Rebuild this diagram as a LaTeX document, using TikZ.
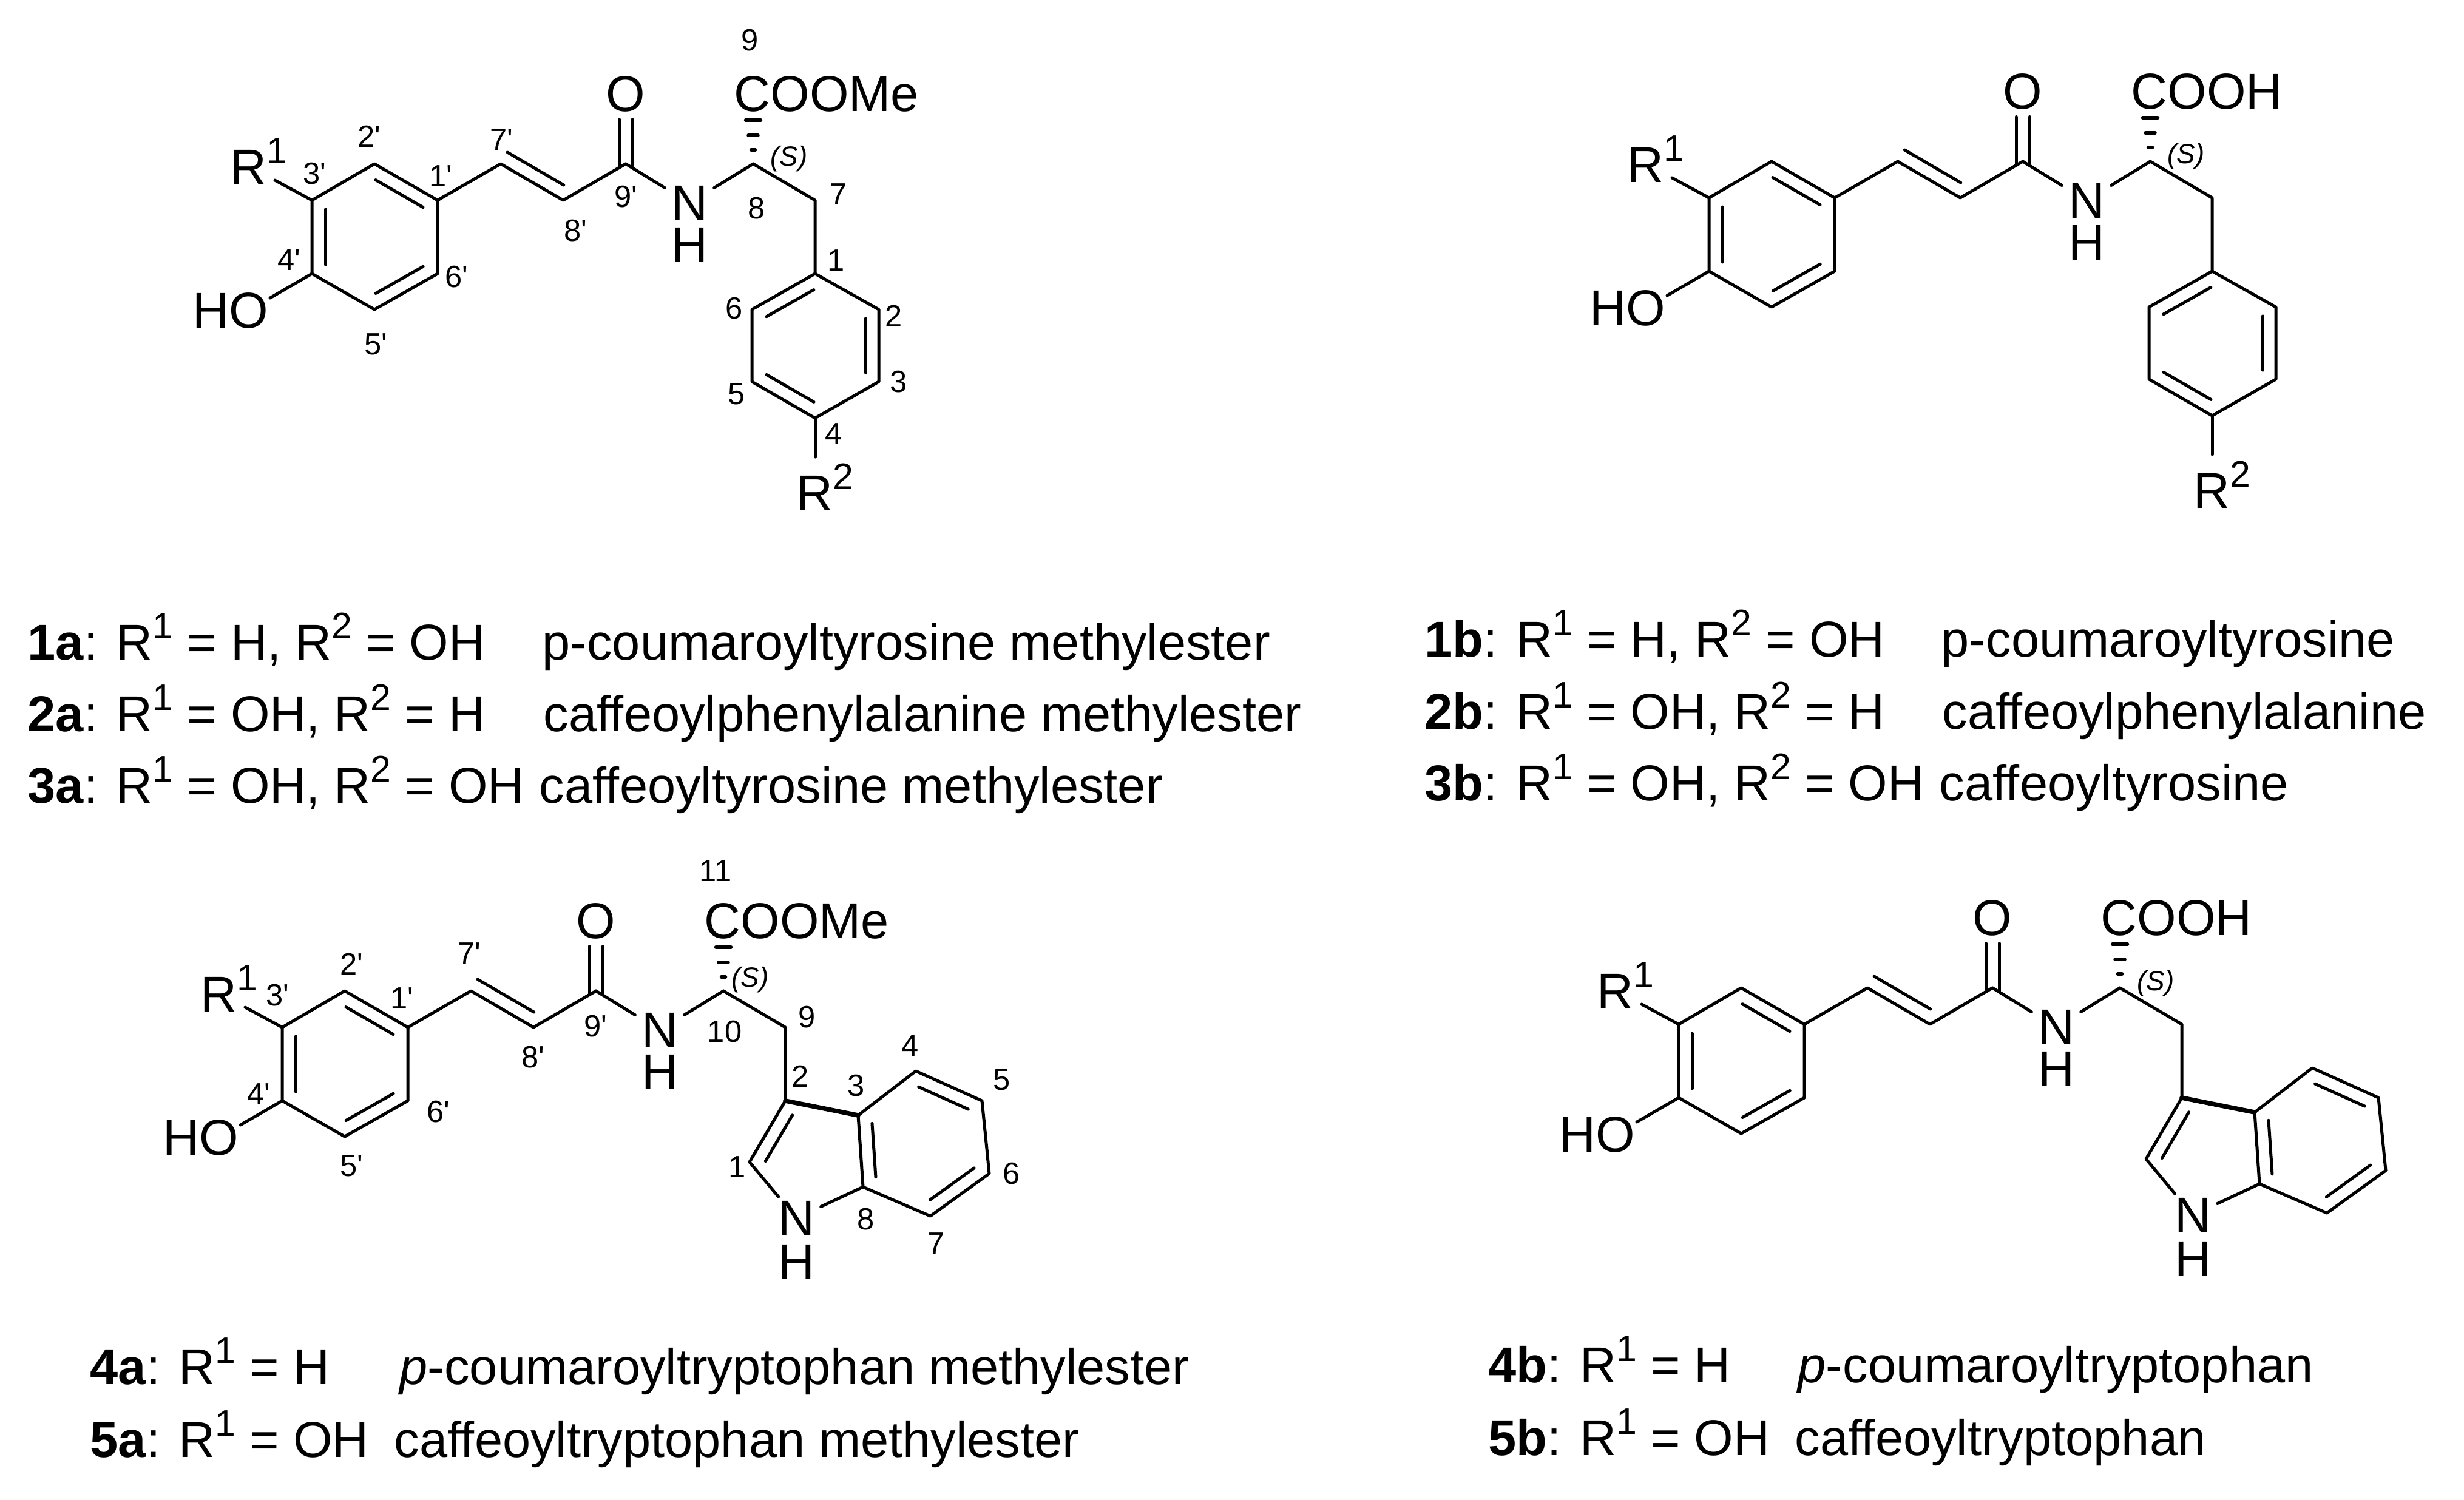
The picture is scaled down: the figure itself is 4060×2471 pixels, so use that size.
\documentclass[tikz,border=0pt]{standalone}
\usepackage{fontspec}
\usetikzlibrary{calc}
\newfontfamily\lsans{Liberation Sans}
\newcommand\pr{'}
\newcommand\supn[1]{\raisebox{.35cm}{\fontsize{17.3pt}{20pt}\selectfont #1}}
\newcommand\Rone{R\supn{1}}
\newcommand\Rtwo{R\supn{2}}
\newcommand\cpd[1]{{\bfseries #1}}
\tikzset{
  bond/.style={line width=.05cm,line cap=round,line join=round,black},
  heavybond/.style={line width=.075cm,line cap=round,line join=round,black},
  hash/.style={line width=.055cm,line cap=round,black},
  bigtxt/.style={inner sep=0pt,anchor=base,font=\lsans\fontsize{23.6pt}{28pt}\selectfont},
  bigw/.style={bigtxt,anchor=base west},
  atom/.style={bigtxt,inner xsep=.1cm},
  oxy/.style={bigtxt,inner ysep=.12cm},
  numlab/.style={inner sep=0pt,anchor=base,font=\lsans\fontsize{14.4pt}{17pt}\selectfont},
  stlab/.style={inner sep=0pt,anchor=base west,font=\lsans\itshape\fontsize{13pt}{15pt}\selectfont},
  legend/.style={bigw}
}
% inner line of a double bond, on the left of a->b
\newcommand\dbond[4]{\draw[bond] ($(#1)!#3!(#2)!.22cm!90:(#2)$) -- ($(#2)!#4!(#1)!.22cm!-90:(#1)$);}
\newcommand\molcore[3]{%
  \coordinate (c3p) at (514,330);
  \coordinate (c2p) at (617,270);
  \coordinate (c1p) at (721,330);
  \coordinate (c6p) at (721,451);
  \coordinate (c5p) at (617,510);
  \coordinate (c4p) at (514,451);
  \coordinate (c7p) at (825,270);
  \coordinate (c8p) at (928,330);
  \coordinate (c9p) at (1031,270);
  \coordinate (c8a) at (1241,270);
  \coordinate (c7a) at (1343,330);
  \coordinate (c1a) at (1343,451);
  \coordinate (r1e) at (453,297);
  \coordinate (hoe) at (445,491);
  \node[oxy] (o) at (1031,183) {O};
  \node[atom] (n) at (1136,363) {N};
  \node[bigtxt] (h) at (1136,432) {H};
  \node[bigw] (acid) at (1209,183) {#1};
  \node[bigw] (r1) at (379,304) {\Rone};
  \node[bigw] (ho) at (317,540) {HO};
  \node[stlab] (st) at (#2,#3) {(S)};
  \draw[bond] (c3p)--(c2p)--(c1p)--(c6p)--(c5p)--(c4p)--cycle;
  \dbond{c3p}{c4p}{.125}{.125}
  \dbond{c5p}{c6p}{.125}{.125}
  \dbond{c1p}{c2p}{.125}{.125}
  \draw[bond] (c3p)--(r1e);
  \draw[bond] (c4p)--(hoe);
  \draw[bond] (c1p)--(c7p)--(c8p)--(c9p);
  \dbond{c7p}{c8p}{0}{.1}
  \draw[bond] ([xshift=-.11cm,yshift=-.065cm]c9p)--([xshift=-.11cm]c9p|-o.south);
  \draw[bond] ([xshift=.11cm,yshift=-.065cm]c9p)--([xshift=.11cm]c9p|-o.south);
  \draw[bond] (c9p)--(n);
  \draw[bond] (c8a)--(n);
  \draw[bond] (c8a)--(c7a)--(c1a);
  \draw[hash] ($(c8a)+(-12.5,-72)$)--($(c8a)+(12.5,-72)$);
  \draw[hash] ($(c8a)+(-8,-47)$)--($(c8a)+(8,-47)$);
  \draw[hash] ($(c8a)+(-3.5,-23)$)--($(c8a)+(3.5,-23)$);
}
\newcommand\molphenyl{%
  \coordinate (c2a) at (1448,510);
  \coordinate (c3a) at (1448,629);
  \coordinate (c4a) at (1343,689);
  \coordinate (c5a) at (1239,629);
  \coordinate (c6a) at (1239,510);
  \coordinate (r2e) at (1343,753);
  \node[bigw] (r2) at (1312,841) {\Rtwo};
  \draw[bond] (c1a)--(c6a)--(c5a)--(c4a)--(c3a)--(c2a)--cycle;
  \dbond{c1a}{c6a}{.125}{.125}
  \dbond{c5a}{c4a}{.125}{.125}
  \dbond{c3a}{c2a}{.125}{.125}
  \draw[bond] (c4a)--(r2e);
}
\newcommand\molindole{%
  \coordinate (i3) at (1463,475);
  \coordinate (i4) at (1558,402);
  \coordinate (i5) at (1667,451);
  \coordinate (i6) at (1679,571);
  \coordinate (i7) at (1582,641);
  \coordinate (i8) at (1471,593);
  \coordinate (i1) at (1284,552);
  \node[bigtxt,inner xsep=.1cm,inner ysep=.06cm] (ni) at (1361,673) {N};
  \node[bigtxt] (hi) at (1361,745) {H};
  \draw[heavybond] (c1a)--(i3);
  \draw[bond] (c1a)--(i1)--(ni);
  \draw[bond] (ni)--(i8);
  \draw[bond] (i3)--(i4)--(i5)--(i6)--(i7)--(i8)--cycle;
  \dbond{c1a}{i1}{.125}{.125}
  \dbond{i3}{i8}{.125}{.125}
  \dbond{i7}{i6}{.125}{.125}
  \dbond{i5}{i4}{.125}{.125}
}
\begin{document}
\begin{tikzpicture}[x=.01cm,y=-.01cm]
\useasboundingbox (0,0) rectangle (4060,2471);
% --- structures ---
\begin{scope}[name prefix=ma-]
  \molcore{COOMe}{1269}{273}
  \molphenyl
\end{scope}
\begin{scope}[shift={(2302,-4)},name prefix=mb-]
  \molcore{COOH}{1269}{273}
  \molphenyl
\end{scope}
\begin{scope}[shift={(-49,1363)},name prefix=ta-]
  \molcore{COOMe}{1254}{263}
  \molindole
\end{scope}
\begin{scope}[shift={(2252,1358)},name prefix=tb-]
  \molcore{COOH}{1269}{274}
  \molindole
\end{scope}
% --- atom numbers, 1a ---
\foreach \t/\x/\y [count=\k] in {
  9/1236/83, 7\pr/826/247, 2\pr/608/242, 3\pr/518/303, 1\pr/726/307,
  4\pr/476/445, 6\pr/752/473, 5\pr/619/584, 8\pr/948/397, 9\pr/1031/341,
  8/1247/360, 7/1382/337, 1/1378/446, 6/1210/525, 2/1473/538,
  5/1214/666, 3/1481/646, 4/1374/732}
  \node[numlab,name=pn\k] at (\x,\y) {\t};
% --- atom numbers, 4a ---
\foreach \t/\x/\y [count=\k] in {
  11/1179/1452, 7\pr/773/1588, 2\pr/579/1606, 3\pr/457/1657, 1\pr/662/1662,
  4\pr/426/1820, 6\pr/722/1849, 5\pr/579/1938, 8\pr/878/1759, 9\pr/981/1708,
  10/1194/1717, 9/1330/1693, 4/1500/1740, 2/1319/1791, 3/1411/1806,
  5/1651/1796, 6/1667/1951, 1/1215/1940, 8/1427/2026, 7/1543/2066}
  \node[numlab,name=tn\k] at (\x,\y) {\t};
% --- legends ---
\node[legend] (la1) at (45,1087) {\cpd{1a}: \Rone{} = H, \Rtwo{} = OH};
\node[legend] (ln1) at (893,1087) {p-coumaroyltyrosine methylester};
\node[legend] (la2) at (45,1205) {\cpd{2a}: \Rone{} = OH, \Rtwo{} = H};
\node[legend] (ln2) at (895,1205) {caffeoylphenylalanine methylester};
\node[legend] (la3) at (45,1323) {\cpd{3a}: \Rone{} = OH, \Rtwo{} = OH};
\node[legend] (ln3) at (888,1323) {caffeoyltyrosine methylester};
\node[legend] (lb1) at (2347,1082) {\cpd{1b}: \Rone{} = H, \Rtwo{} = OH};
\node[legend] (lm1) at (3198,1082) {p-coumaroyltyrosine};
\node[legend] (lb2) at (2347,1201) {\cpd{2b}: \Rone{} = OH, \Rtwo{} = H};
\node[legend] (lm2) at (3200,1201) {caffeoylphenylalanine};
\node[legend] (lb3) at (2347,1319) {\cpd{3b}: \Rone{} = OH, \Rtwo{} = OH};
\node[legend] (lm3) at (3195,1319) {caffeoyltyrosine};
\node[legend] (la4) at (148,2281) {\cpd{4a}: \Rone{} = H};
\node[legend] (ln4) at (658,2281) {{\itshape p}-coumaroyltryptophan methylester};
\node[legend] (la5) at (148,2401) {\cpd{5a}: \Rone{} = OH};
\node[legend] (ln5) at (649,2401) {caffeoyltryptophan methylester};
\node[legend] (lb4) at (2452,2278) {\cpd{4b}: \Rone{} = H};
\node[legend] (lm4) at (2962,2278) {{\itshape p}-coumaroyltryptophan};
\node[legend] (lb5) at (2452,2398) {\cpd{5b}: \Rone{} = OH};
\node[legend] (lm5) at (2957,2398) {caffeoyltryptophan};
\end{tikzpicture}
\end{document}
